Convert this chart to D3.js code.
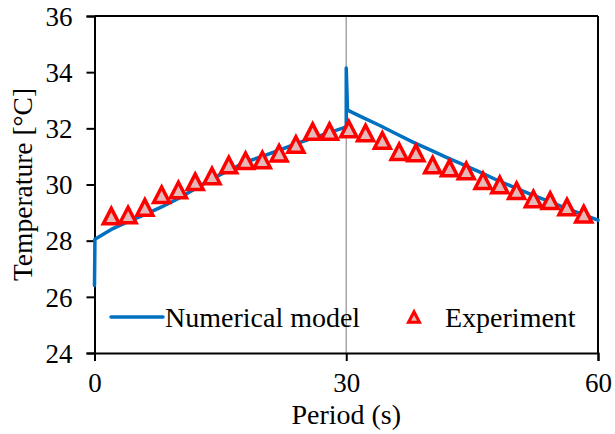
<!DOCTYPE html>
<html>
<head>
<meta charset="utf-8">
<script src="https://cdn.jsdelivr.net/npm/d3@7"></script>
<style>
  body { margin: 0; background: #fff; }
  svg text { font-family: "Times New Roman", "Liberation Serif", "DejaVu Serif", serif; fill: #000; }
</style>
</head>
<body>
<svg id="chart" width="615" height="434"></svg>
<script>
// experiment (triangles)
const expTime = [2, 4, 6, 8, 10, 12, 14, 16, 18, 20, 22, 24, 26, 28,
    30.3, 32.3, 34.3, 36.3, 38.3, 40.3, 42.3, 44.3, 46.3, 48.3, 50.3, 52.3, 54.3, 56.3, 58.3];
const expTemp = [28.91, 28.95, 29.22, 29.67, 29.84, 30.13, 30.34, 30.73, 30.88, 30.91, 31.15, 31.46, 31.92, 31.92,
    32.01, 31.87, 31.6, 31.2, 31.16, 30.73, 30.62, 30.52, 30.17, 30.02, 29.81, 29.52, 29.46, 29.23, 28.98];

// numerical model (blue line)
const modelTime = [0, 0.05, 2, 4, 6, 8, 10, 12, 14, 16, 18, 20, 22, 24, 26, 28, 30, 30, 30.15,
    32, 34, 36, 38, 40, 42, 44, 46, 48, 50, 52, 54, 56, 58, 60];
const modelTemp = [26.4, 28.05, 28.4, 28.68, 28.93, 29.2, 29.5, 29.85, 30.2, 30.5, 30.8, 31.0, 31.22, 31.45, 31.65, 31.85, 32.05, 34.15, 32.65,
    32.38, 32.1, 31.8, 31.5, 31.23, 30.96, 30.7, 30.43, 30.15, 29.9, 29.65, 29.42, 29.18, 28.95, 28.73];

const xTicks = [0, 30, 60];
const yTicks = [24, 26, 28, 30, 32, 34, 36];
const switchTime = 30;

const serif = '"Times New Roman", "Liberation Serif", "DejaVu Serif", serif';

const svg = d3.select("#chart");
const plotLeft = 94.5, plotRight = 598, plotTop = 16, plotBottom = 353;

const x = d3.scaleLinear().domain([0, 60]).range([plotLeft, plotRight]);
const y = d3.scaleLinear().domain([24, 36]).range([plotBottom, plotTop]);

// gray marker line at 30 s
svg.append("line")
    .attr("x1", x(switchTime)).attr("x2", x(switchTime))
    .attr("y1", plotTop).attr("y2", plotBottom)
    .attr("stroke", "#a6a6a6")
    .attr("stroke-width", 1.5);

// axes
const xAxis = svg.append("g")
    .attr("transform", `translate(0,${plotBottom})`)
    .call(d3.axisBottom(x).tickValues(xTicks).tickSize(8).tickPadding(12).tickFormat(d3.format("d")));
const yAxis = svg.append("g")
    .attr("transform", `translate(${plotLeft},0)`)
    .call(d3.axisLeft(y).tickValues(yTicks).tickSize(8).tickPadding(14).tickFormat(d3.format("d")));

[xAxis, yAxis].forEach(g => {
    g.attr("font-family", serif).attr("font-size", 27);
    g.select(".domain").attr("stroke", "#000").attr("stroke-width", 2);
    g.selectAll(".tick line").attr("stroke", "#000").attr("stroke-width", 2);
    g.selectAll(".tick text").attr("fill", "#000");
});
yAxis.selectAll(".tick text").attr("dy", "0.34em");

// frame top and right
svg.append("line")
    .attr("x1", plotLeft).attr("x2", plotRight).attr("y1", plotTop).attr("y2", plotTop)
    .attr("stroke", "#000").attr("stroke-width", 2);
svg.append("line")
    .attr("x1", plotRight).attr("x2", plotRight).attr("y1", plotTop).attr("y2", plotBottom)
    .attr("stroke", "#000").attr("stroke-width", 2);

// model line
const modelData = modelTime.map((t, i) => ({ t: t, v: modelTemp[i] }));
svg.append("path")
    .datum(modelData)
    .attr("fill", "none")
    .attr("stroke", "#0070C0")
    .attr("stroke-width", 3.5)
    .attr("stroke-linejoin", "round")
    .attr("stroke-linecap", "round")
    .attr("d", d3.line().x(d => x(d.t)).y(d => y(d.v)));

// triangle path helper
function tri(w, h) {
    return `M0,${-h / 2}L${w / 2},${h / 2}L${-w / 2},${h / 2}Z`;
}

const expData = expTime.map((t, i) => ({ t: t, v: expTemp[i] }));
svg.append("g")
    .selectAll("path")
    .data(expData)
    .enter().append("path")
    .attr("d", tri(16, 15.5))
    .attr("transform", d => `translate(${x(d.t)},${y(d.v) + 1})`)
    .attr("fill", "#e6b9b8")
    .attr("stroke", "#ff0000")
    .attr("stroke-width", 3.5)
    .attr("stroke-linejoin", "miter");

// legend
const legend = svg.append("g").attr("font-family", serif).attr("font-size", 28);
legend.append("line")
    .attr("x1", 111).attr("x2", 163).attr("y1", 317).attr("y2", 317)
    .attr("stroke", "#0070C0").attr("stroke-width", 3.5).attr("stroke-linecap", "round");
legend.append("text")
    .attr("x", 165).attr("y", 327)
    .text("Numerical model");
legend.append("path")
    .attr("d", tri(11, 10.5))
    .attr("transform", "translate(414,317)")
    .attr("fill", "#e6b9b8")
    .attr("stroke", "#ff0000")
    .attr("stroke-width", 3);
legend.append("text")
    .attr("x", 445).attr("y", 327)
    .text("Experiment");

// axis titles
svg.append("text")
    .attr("x", (plotLeft + plotRight) / 2).attr("y", 424)
    .attr("text-anchor", "middle")
    .attr("font-family", serif).attr("font-size", 28)
    .text("Period (s)");
svg.append("text")
    .attr("transform", `translate(32,${(plotTop + plotBottom) / 2}) rotate(-90)`)
    .attr("text-anchor", "middle")
    .attr("font-family", serif).attr("font-size", 27.5)
    .text("Temperature [°C]");
</script>
</body>
</html>
